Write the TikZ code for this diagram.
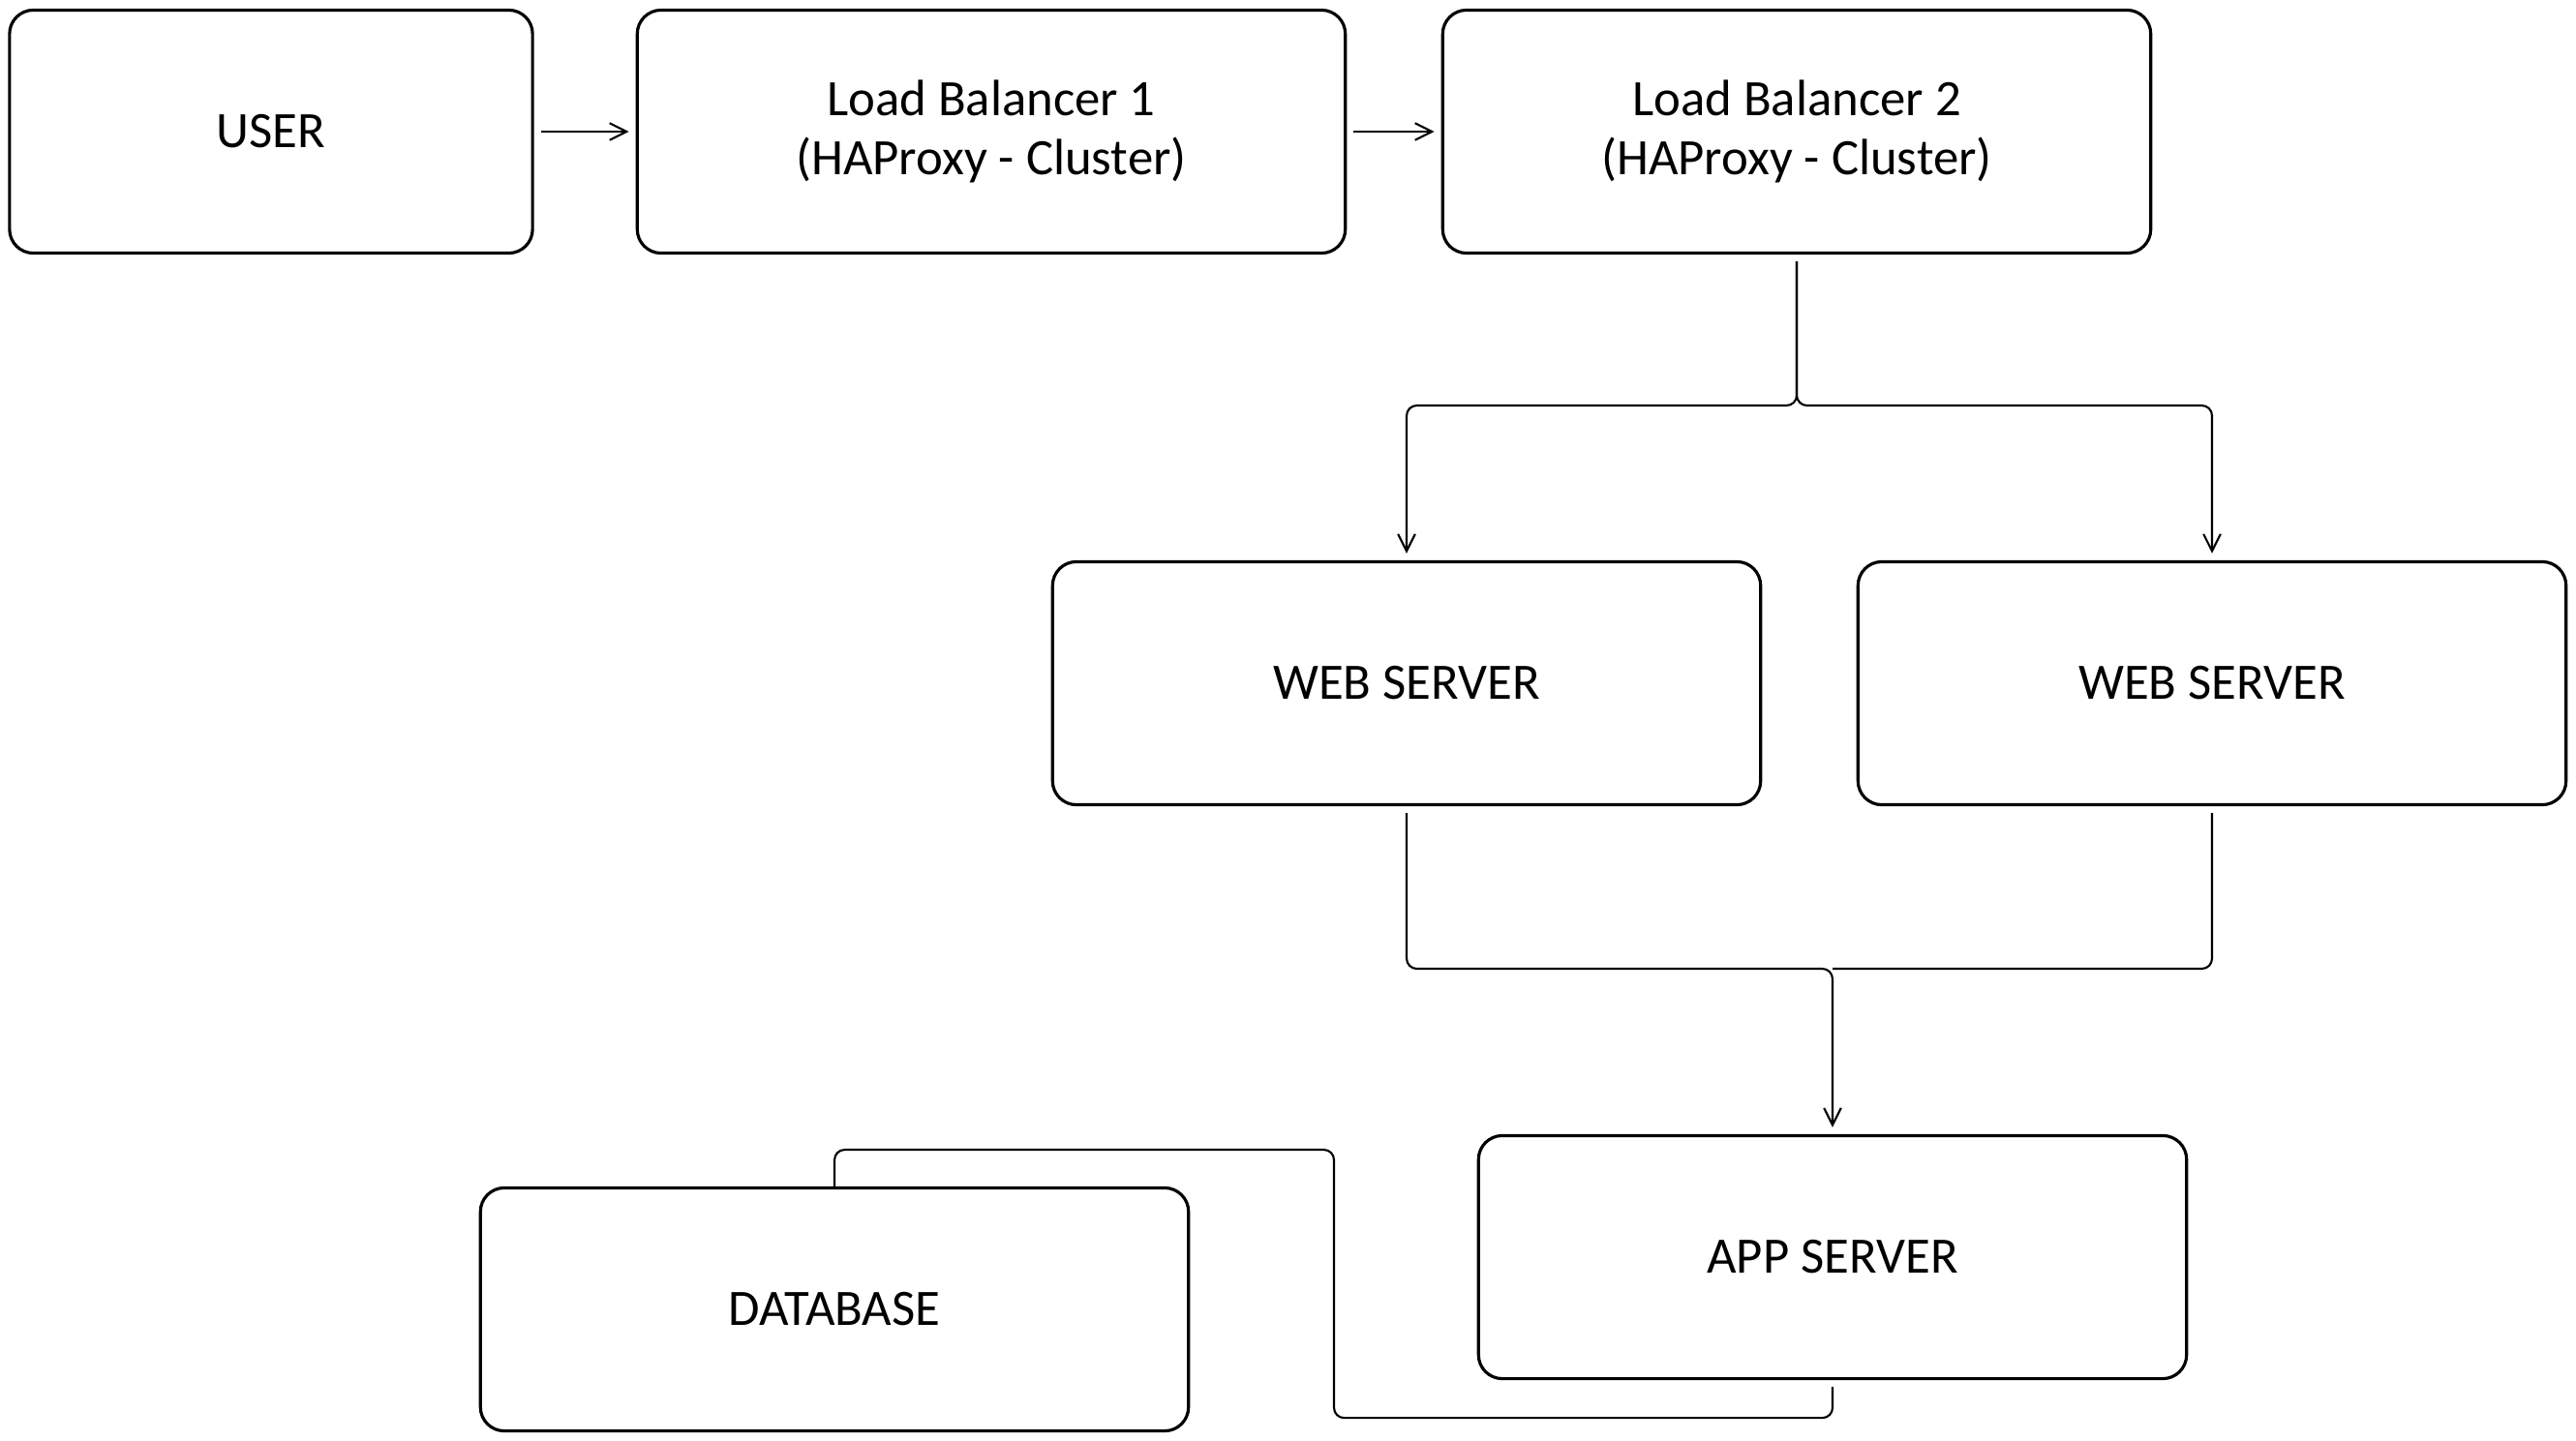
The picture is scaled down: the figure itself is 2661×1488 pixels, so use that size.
\documentclass[tikz,border=0pt]{standalone}
\usepackage{fontspec}
\setmainfont{Carlito}
\usetikzlibrary{arrows.meta}

\begin{document}
\begin{tikzpicture}[x=0.01cm, y=-0.01cm, % 1単位 = 1px、yは下向き
    box/.style={draw, line width=0.9pt, rounded corners=7pt, minimum width=7.31cm, minimum height=2.51cm, align=center, font=\fontsize{15}{17.5}\selectfont}, % 箱
    conn/.style={line width=0.6pt, rounded corners=3pt, shorten <=2pt}, % 線
    arr/.style={conn, shorten >=2pt, -{Straight Barb[length=5pt, width=5pt]}}] % 矢印
    \useasboundingbox (0,0) rectangle (2661,1488); % 余白込みの大きさ

    \node[box, minimum width=5.40cm] (user) at (280,136) {USER};
    \node[box] (lb1) at (1024,136) {Load Balancer 1\\(HAProxy - Cluster)};
    \node[box] (lb2) at (1856,136) {Load Balancer 2\\(HAProxy - Cluster)};
    \node[box] (web1) at (1453,706) {WEB SERVER};
    \node[box] (web2) at (2285,706) {WEB SERVER};
    \node[box] (app) at (1893,1299) {APP SERVER};
    \node[box] (db) at (862,1353) {DATABASE};

    \draw[arr] (user) -- (lb1);
    \draw[arr] (lb1) -- (lb2);

    \coordinate (split) at (1856,419); % 分岐点
    \draw[arr] (lb2.south) -- (split) -| (web1.north);
    \draw[arr] (lb2.south) -- (split) -| (web2.north);

    \coordinate (merge) at (1893,1001); % 合流点
    \draw[arr] (web1.south) |- (merge) -- (app.north);
    \draw[conn] (web2.south) |- (merge);

    \coordinate (dbbend) at (1378,1188); % DBへの折れ点
    \draw[conn] (app.south) -- ++(0,39) -| (dbbend) -| (db.north); % 矢印なし
\end{tikzpicture}
\end{document}
